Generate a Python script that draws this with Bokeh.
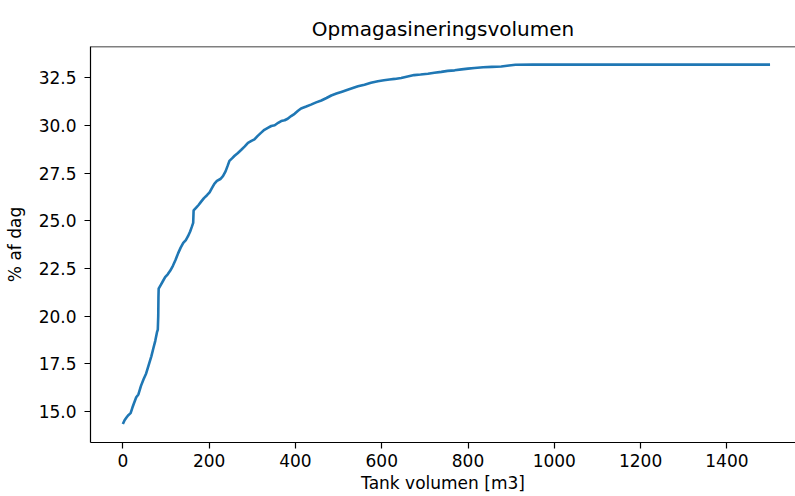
from bokeh.plotting import figure
from bokeh.models import FixedTicker, PrintfTickFormatter, Range1d, Span
from bokeh.embed import file_html
from bokeh.resources import INLINE

# --- data ---
tank_volume = [0, 4, 8, 12, 18, 22, 26, 31, 36, 42, 48, 54, 60, 66, 71, 75, 79, 81, 82, 82.5, 83,
               88, 93, 98, 104, 110, 116, 122, 128, 134, 140, 146, 151, 156, 160, 163, 164,
               170, 176, 181, 188, 195, 201, 207, 212, 218, 226, 232, 238, 243, 247, 253, 259,
               266, 274, 282, 290, 298, 305, 312, 320, 328, 336, 344, 352, 360, 367, 375, 382,
               390, 398, 406, 413, 425, 436, 448, 460, 472, 483, 495, 508, 521, 533, 545, 560,
               575, 591, 605, 618, 630, 645, 660, 675, 690, 707, 722, 738, 753, 769, 785, 800,
               815, 835, 855, 877, 895, 910, 950, 1000, 1500]
pct_of_day = [14.35, 14.55, 14.68, 14.8, 14.92, 15.2, 15.45, 15.75, 15.9, 16.35, 16.7, 17.0, 17.45,
              17.9, 18.35, 18.7, 19.15, 19.3, 20.0, 21.0, 21.45,
              21.65, 21.85, 22.05, 22.2, 22.4, 22.65, 22.95, 23.3, 23.6, 23.85, 24.0, 24.2, 24.45,
              24.7, 24.9, 25.55,
              25.7, 25.85, 26.0, 26.2, 26.35, 26.5, 26.75, 26.95, 27.1, 27.2, 27.35, 27.6, 27.9,
              28.15, 28.28, 28.42, 28.55, 28.72, 28.9, 29.1, 29.2, 29.28, 29.45, 29.62, 29.78,
              29.88, 29.98, 30.02, 30.15, 30.24, 30.28, 30.36, 30.5, 30.62, 30.78, 30.9, 31.0,
              31.1, 31.22, 31.32, 31.45, 31.58, 31.68, 31.78, 31.88, 31.97, 32.06, 32.15, 32.25,
              32.33, 32.38, 32.42, 32.45, 32.5, 32.58, 32.65, 32.68, 32.72, 32.77, 32.82, 32.87,
              32.9, 32.95, 32.99, 33.02, 33.06, 33.08, 33.1, 33.15, 33.19, 33.2, 33.2, 33.2]
x_ticks = [0, 200, 400, 600, 800, 1000, 1200, 1400]
y_ticks = [15.0, 17.5, 20.0, 22.5, 25.0, 27.5, 30.0, 32.5]

FONT = "DejaVu Sans"
Y_START, Y_END = 13.38, 34.15

p = figure(width=795, height=496, output_backend="svg", toolbar_location=None,
           title="Opmagasineringsvolumen",
           x_range=Range1d(-75, 1559), y_range=Range1d(Y_START, Y_END),
           min_border_left=90, min_border_right=0, min_border_top=46, min_border_bottom=54)

p.line(tank_volume, pct_of_day, line_color="#1f77b4", line_width=2.6)

p.title.align = "center"
p.title.text_font = FONT
p.title.text_font_size = "20px"
p.title.text_font_style = "normal"
p.title.text_color = "black"
p.title.standoff = 12

p.grid.visible = False
p.outline_line_color = None
p.add_layout(Span(location=Y_END, dimension="width", line_color="black", line_width=1.5))

for ax in (p.xaxis[0], p.yaxis[0]):
    ax.axis_line_color = "black"
    ax.axis_line_width = 1.2
    ax.major_tick_line_color = "black"
    ax.major_tick_line_width = 1.2
    ax.major_tick_out = 6
    ax.major_tick_in = 0
    ax.minor_tick_line_color = None
    ax.major_label_text_font = FONT
    ax.major_label_text_font_size = "17px"
    ax.major_label_text_color = "black"
    ax.axis_label_text_font = FONT
    ax.axis_label_text_font_size = "17px"
    ax.axis_label_text_font_style = "normal"
    ax.axis_label_text_color = "black"

p.xaxis[0].ticker = FixedTicker(ticks=x_ticks)
p.yaxis[0].ticker = FixedTicker(ticks=y_ticks)
p.yaxis[0].formatter = PrintfTickFormatter(format="%.1f")
p.xaxis[0].axis_label = "Tank volumen [m3]"
p.yaxis[0].axis_label = "% af dag"
p.xaxis[0].major_label_standoff = 5
p.yaxis[0].major_label_standoff = 8
p.xaxis[0].axis_label_standoff = 3
p.yaxis[0].axis_label_standoff = 11

open("out.html", "w").write(file_html(p, INLINE))
